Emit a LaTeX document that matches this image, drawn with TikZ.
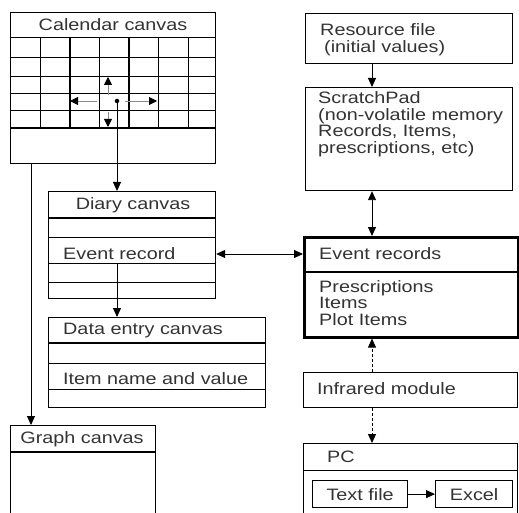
\documentclass[tikz,border=0pt]{standalone}
\usepackage{fontspec}
\setmainfont{Liberation Sans}[FakeStretch=1.2]
\usetikzlibrary{arrows.meta,positioning}

\begin{document}
\begin{tikzpicture}[
    x=1pt, y=-1pt,
    font=\fontsize{16.5}{16.5}\selectfont,
    box/.style={draw, line width=1.2pt, inner sep=0pt, anchor=north west},
    heavybox/.style={box, line width=2.6pt},
    txt/.style={inner sep=0pt, anchor=west, align=left, text=black!80},
    ttl/.style={inner sep=0pt, text=black!80},
    div/.style={line width=0.8pt},
    thk/.style={line width=1.6pt},
    arr/.style={-{Triangle[length=9pt,width=8pt]}, line width=0.9pt},
    dbl/.style={{Triangle[length=9pt,width=8pt]}-{Triangle[length=9pt,width=8pt]}, line width=0.9pt},
    mv/.style={-{Triangle[length=8pt,width=8pt,color=black]}, draw=black!45, line width=0.9pt},
    dsh/.style={arr, dash pattern=on 3pt off 2pt}
  ]
    \useasboundingbox[fill=white] (0,0) rectangle (519,513);

    % Calendar canvas
    \node[box, minimum width=205pt, minimum height=151pt] (cal) at (10,12) {};
    \node[ttl] (caltitle) at (113,25) {Calendar canvas};
    \draw[div] (10,37) -- (215,37);
    \foreach \y in {57,76,93,110}
      \draw[div] (10,\y) -- (215,\y);
    \draw[thk] (10,128) -- (215,128);
    \foreach \x in {40,99,158,188}
      \draw[div] (\x,37) -- (\x,128);
    \foreach \x in {70,129}
      \draw[thk] (\x,37) -- (\x,128);

    % Cursor moves
    \node[circle, fill, inner sep=1.6pt] (cur) at (117,101) {};
    \coordinate (mvl) at (70,101);
    \coordinate (mvr) at (157,101);
    \coordinate (mvu) at (108,77);
    \coordinate (mvd) at (108,127);
    \draw[mv] (97,101) -- (mvl);
    \draw[mv] (125,101) -- (mvr);
    \draw[mv] (108,95) -- (mvu);
    \draw[mv] (108,112) -- (mvd);

    % Diary canvas
    \node[box, minimum width=167pt, minimum height=107pt] (diary) at (48,191) {};
    \node[ttl] (diarytitle) at (133,205) {Diary canvas};
    \draw[thk] (48,218) -- (215,218);
    \foreach \y in {237,263,282}
      \draw[div] (48,\y) -- (215,\y);
    \node[txt] (evrec) at (63,254) {Event record};
    \coordinate (recpick) at (117,263);

    % Data entry canvas
    \node[box, minimum width=217pt, minimum height=90pt] (dataent) at (48,317) {};
    \node[txt] (datatitle) at (63,331) {Data entry canvas};
    \draw[thk] (48,343) -- (265,343);
    \foreach \y in {363,389}
      \draw[div] (48,\y) -- (265,\y);
    \node[txt] (itemrow) at (63,379) {Item name and value};

    % Graph canvas
    \node[box, minimum width=145pt, minimum height=100pt] (graph) at (10,425) {};
    \node[ttl] (graphtitle) at (82,439) {Graph canvas};
    \draw[thk] (10,452) -- (155,452);

    % Right column
    \coordinate (rcol) at (372,0);
    \node[box, minimum width=207pt, minimum height=50pt] (res) at (305,13) {};
    \node[txt] (restext) at (320,39.5) {Resource file\\\hspace{4pt}(initial values)};
    \node[box, minimum width=207pt, minimum height=103pt] (scratch) at (305,87) {};
    \node[txt] (scrtext) at (318,124) {ScratchPad\\(non-volatile memory\\Records, Items,\\prescriptions, etc)};

    \node[heavybox, minimum width=214pt, minimum height=100pt] (events) at (303,236) {};
    \draw[line width=2.2pt] (303,272) -- (517,272);
    \node[txt] (evttitle) at (319,254) {Event records};
    \node[txt] (evtlist) at (319,303) {Prescriptions\\Items\\Plot Items};

    \node[box, minimum width=214pt, minimum height=35pt] (ir) at (303,372) {};
    \node[txt] (irtext) at (317,389) {Infrared module};

    \node[box, minimum width=214pt, minimum height=85pt] (pc) at (303,443) {};
    \draw[div] (303,470) -- (517,470);
    \node[txt] (pctext) at (327,457) {PC};
    \node[box, minimum width=95pt, minimum height=27pt, text=black!80] (txtfile) at (312,480) {Text file};
    \node[box, minimum width=77pt, minimum height=27pt, text=black!80] (excel) at (435,480) {Excel};

    % Connectors
    \draw[arr] (cur) -- (cur |- diary.north);
    \draw[arr] (cal.south west) ++(21,0) coordinate (calout) -- (calout |- graph.north);
    \draw[arr] (recpick) -- (recpick |- dataent.north);
    \draw[dbl] (evrec -| diary.east) -- (evrec -| events.west);
    \draw[arr] (res.south -| rcol) -- (scratch.north -| rcol);
    \draw[dbl] (scratch.south -| rcol) -- (events.north -| rcol);
    \draw[dsh] (ir.north -| rcol) -- (events.south -| rcol);
    \draw[dsh] (ir.south -| rcol) -- (pc.north -| rcol);
    \draw[arr] (txtfile) -- (excel);
  \end{tikzpicture}
\end{document}
